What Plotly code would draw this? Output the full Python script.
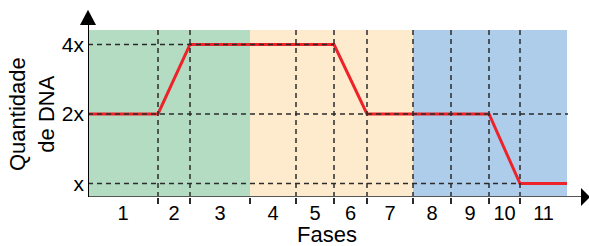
import plotly.graph_objects as go

# ---- data ----
phase_labels = ["1", "2", "3", "4", "5", "6", "7", "8", "9", "10", "11"]
phase_bounds = [0, 70, 102, 162, 208, 246, 279, 325, 363, 401, 432, 479]
level_vals = [1, 2, 3]
level_text = ["x", "2x", "4x"]
dna_x = [0, 70, 102, 246, 279, 401, 432, 479]
dna_level = [2, 2, 3, 3, 2, 2, 1, 1]
region_start = [0, 162, 325]
region_end = [162, 325, 479]
region_colors = ["#b3dcc3", "#feebcd", "#aecdeb"]
ref_lines_end = {1: 432, 2: 480, 3: 246}   # horizontal dashed guides
no_dash_bounds = [0, 162, 479]

Y_MIN, Y_MAX = 0.806, 3.64
BG_TOP = 3.209
X_MAX = 501


def px(xv):
    return xv / X_MAX


def py(yv):
    return (yv - Y_MIN) / (Y_MAX - Y_MIN)


fig = go.Figure()

shapes = []
for s, e, c in zip(region_start, region_end, region_colors):
    shapes.append(dict(type="rect", xref="x", yref="y", x0=s, x1=e, y0=Y_MIN, y1=BG_TOP,
                       fillcolor=c, line_width=0, layer="below"))

dash = dict(color="#2b2b2b", width=1.5, dash="5px,4px")
for b in phase_bounds:
    if b in no_dash_bounds:
        continue
    shapes.append(dict(type="line", xref="x", yref="y", x0=b, x1=b, y0=Y_MIN, y1=BG_TOP, line=dash))
for lv, xe in ref_lines_end.items():
    shapes.append(dict(type="line", xref="x", yref="y", x0=0, x1=xe, y0=lv, y1=lv, line=dash))

# axes lines & arrows
shapes.append(dict(type="line", xref="x", yref="y", x0=0, x1=X_MAX - 8, y0=Y_MIN, y1=Y_MIN,
                   line=dict(color="#555555", width=2)))
shapes.append(dict(type="line", xref="x", yref="y", x0=0, x1=0, y0=Y_MIN, y1=3.28,
                   line=dict(color="#000000", width=2)))
shapes.append(dict(type="path", xref="paper", yref="paper",
                   path=f"M {px(-8)},{py(3.28)} L {px(8)},{py(3.28)} L {px(0)},{py(3.5)} Z",
                   fillcolor="black", line_width=0))
shapes.append(dict(type="path", xref="paper", yref="paper",
                   path=(f"M {px(X_MAX-8)},{py(Y_MIN-0.13)} L {px(X_MAX-8)},{py(Y_MIN+0.13)} "
                         f"L {px(X_MAX+1)},{py(Y_MIN)} Z"),
                   fillcolor="black", line_width=0))

fig.add_trace(go.Scatter(x=dna_x, y=dna_level, mode="lines",
                         line=dict(color="#ee2229", width=3), hoverinfo="skip", cliponaxis=False))

centers = [(a + b) / 2 for a, b in zip(phase_bounds[:-1], phase_bounds[1:])]

font = "Liberation Sans, Arial, sans-serif"
fig.update_layout(
    width=589, height=246,
    margin=dict(l=88, r=0, t=0, b=49, autoexpand=False),
    paper_bgcolor="white", plot_bgcolor="rgba(0,0,0,0)",
    showlegend=False,
    shapes=shapes,
    font=dict(family=font, color="black"),
    xaxis=dict(range=[0, X_MAX], showgrid=False, zeroline=False, showline=False,
               automargin=False,
               tickmode="array", tickvals=centers, ticktext=phase_labels, ticks="",
               tickfont=dict(size=20), ticklabelstandoff=2,
               minor=dict(tickmode="array", tickvals=phase_bounds[1:-1], ticks="outside",
                          ticklen=6, tickwidth=1.5, tickcolor="#2b2b2b", showgrid=False)),
    yaxis=dict(range=[Y_MIN, Y_MAX], showgrid=False, zeroline=False, showline=False,
               automargin=False,
               tickmode="array", tickvals=level_vals, ticktext=level_text, ticks="",
               tickfont=dict(size=21), ticklabelstandoff=3),
    annotations=[
        dict(text="Quantidade<br>de DNA", xref="paper", yref="y", x=(32 - 88) / X_MAX, y=2.0,
             textangle=-90, showarrow=False, font=dict(size=22),
             xanchor="center", yanchor="middle"),
        dict(text="Fases", xref="x", yref="paper", x=239, y=0, yshift=-37,
             showarrow=False, font=dict(size=22), xanchor="center", yanchor="middle"),
    ],
)

fig.write_html("out.html", config={"displayModeBar": False},
               post_script="document.body.style.margin='0px';")
